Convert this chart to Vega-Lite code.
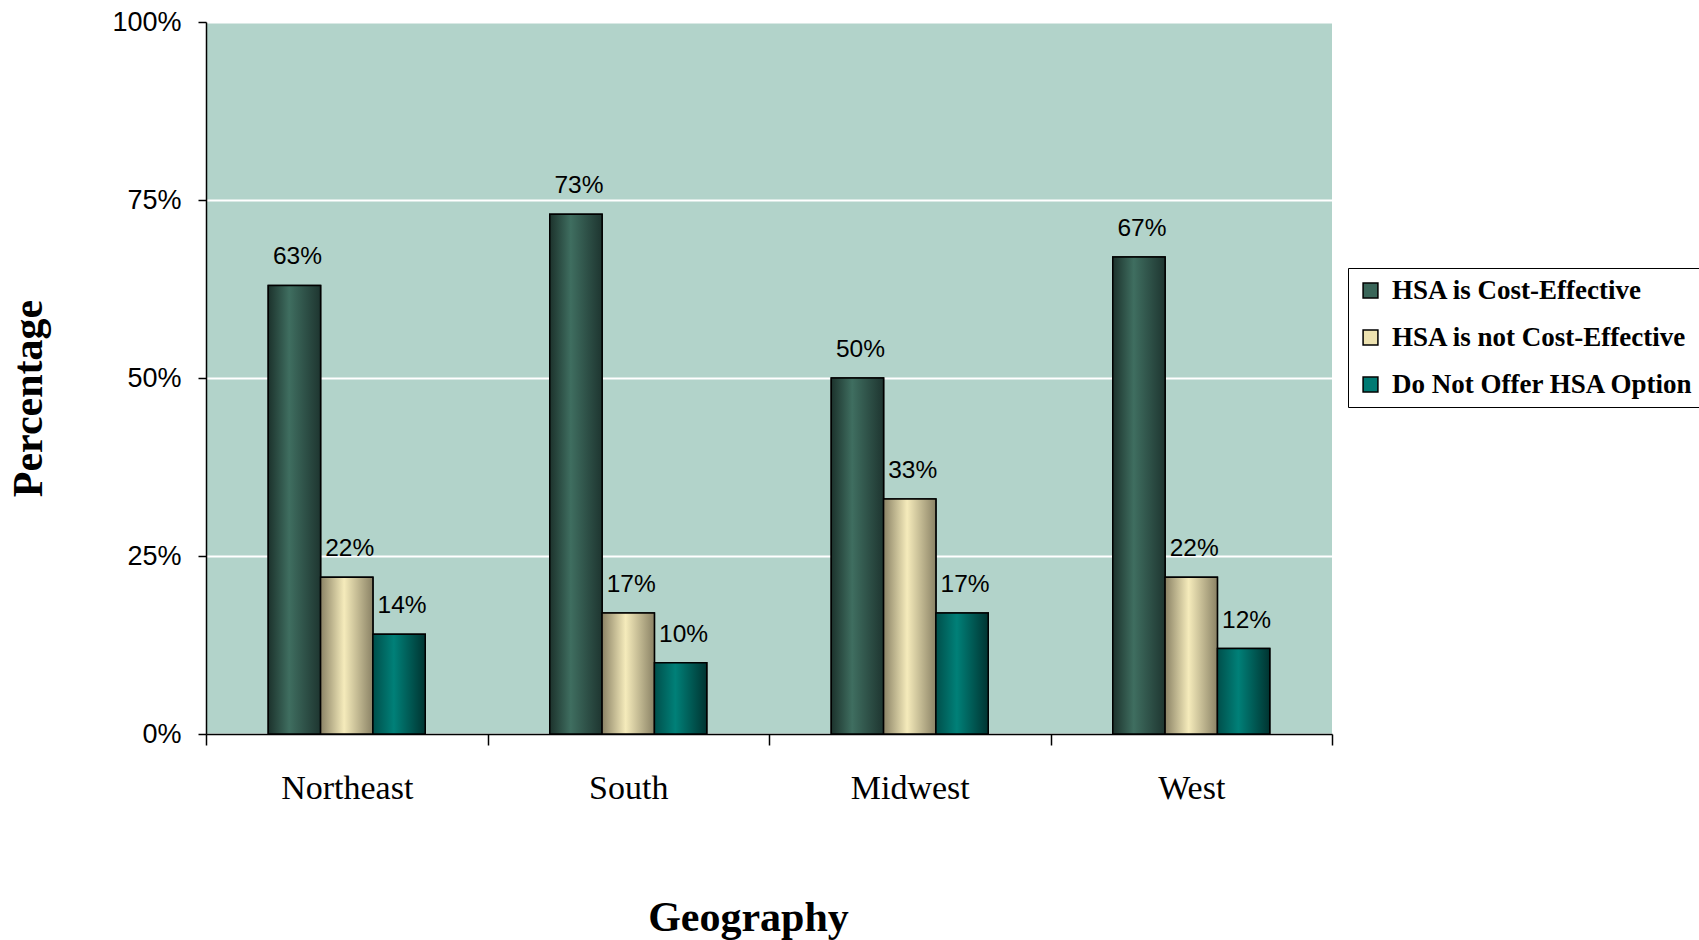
{
  "$schema": "https://vega.github.io/schema/vega-lite/v6.json",
  "width": 1126,
  "height": 712,
  "autosize": "none",
  "padding": {"left": 206, "top": 22, "right": 367, "bottom": 206},
  "background": "white",
  "config": {
    "view": {"stroke": null, "fill": "#B2D3CA"},
    "axis": {"domainColor": "black", "domainWidth": 1.5, "tickColor": "black", "tickWidth": 1.5, "labelColor": "black", "titleColor": "black"}
  },
  "data": {
    "values": [
      {"region": "Northeast", "series": "HSA is Cost-Effective", "value": 0.63},
      {"region": "Northeast", "series": "HSA is not Cost-Effective", "value": 0.22},
      {"region": "Northeast", "series": "Do Not Offer HSA Option", "value": 0.14},
      {"region": "South", "series": "HSA is Cost-Effective", "value": 0.73},
      {"region": "South", "series": "HSA is not Cost-Effective", "value": 0.17},
      {"region": "South", "series": "Do Not Offer HSA Option", "value": 0.10},
      {"region": "Midwest", "series": "HSA is Cost-Effective", "value": 0.50},
      {"region": "Midwest", "series": "HSA is not Cost-Effective", "value": 0.33},
      {"region": "Midwest", "series": "Do Not Offer HSA Option", "value": 0.17},
      {"region": "West", "series": "HSA is Cost-Effective", "value": 0.67},
      {"region": "West", "series": "HSA is not Cost-Effective", "value": 0.22},
      {"region": "West", "series": "Do Not Offer HSA Option", "value": 0.12}
    ]
  },
  "encoding": {
    "x": {
      "field": "region", "type": "nominal",
      "sort": ["Northeast", "South", "Midwest", "West"],
      "scale": {"paddingInner": 0, "paddingOuter": 0},
      "axis": {
        "title": "Geography", "tickBand": "extent", "labelAngle": 0,
        "labelFont": "Liberation Serif", "labelFontSize": 34, "labelPadding": 26, "tickSize": 11,
        "titleFont": "Liberation Serif", "titleFontSize": 42, "titleFontWeight": "bold",
        "titleX": 542, "titleY": 196, "titleBaseline": "alphabetic", "titleAlign": "center",
        "grid": false
      }
    },
    "xOffset": {
      "field": "series", "type": "nominal",
      "scale": {"domain": ["_pad1", "HSA is Cost-Effective", "HSA is not Cost-Effective", "Do Not Offer HSA Option", "_pad2"], "paddingInner": 0, "paddingOuter": 0.19}
    },
    "y": {
      "field": "value", "type": "quantitative",
      "scale": {"domain": [0, 1]},
      "axis": {
        "title": "Percentage", "values": [0, 0.25, 0.5, 0.75, 1], "format": ".0%",
        "labelFont": "Liberation Sans", "labelFontSize": 27, "labelPadding": 17, "tickSize": 8,
        "grid": true, "gridColor": "white", "gridWidth": 2,
        "titleFont": "Liberation Serif", "titleFontSize": 42, "titleFontWeight": "bold",
        "titleX": -165, "titleY": 376, "titleAlign": "center", "titleBaseline": "alphabetic", "titleAngle": -90
      }
    }
  },
  "layer": [
    {
      "mark": {"type": "bar", "stroke": "black", "strokeWidth": 1.5},
      "encoding": {
        "color": {
          "field": "series", "type": "nominal",
          "scale": {"domain": ["HSA is Cost-Effective", "HSA is not Cost-Effective", "Do Not Offer HSA Option"], "range": ["#3A6659", "#EDE2B0", "#007A73"]},
          "legend": {
            "orient": "none", "legendX": 1142, "legendY": 246, "title": null,
            "labelFont": "Liberation Serif", "labelFontSize": 27, "labelFontWeight": "bold", "labelColor": "black",
            "symbolType": "square", "symbolSize": 220, "symbolStrokeColor": "black", "symbolStrokeWidth": 1.5, "symbolOpacity": 1,
            "labelOffset": 8, "rowPadding": 19, "padding": 9, "offset": 0,
            "strokeColor": "black", "fillColor": "white", "labelLimit": 400
          }
        }
      }
    },
    {
      "transform": [{"filter": "datum.series === 'HSA is Cost-Effective'"}],
      "mark": {"type": "bar", "stroke": "black", "strokeWidth": 1.5,
        "fill": {"gradient": "linear", "x1": 0, "x2": 1, "y1": 0, "y2": 0,
          "stops": [{"offset": 0, "color": "#1C322C"}, {"offset": 0.4, "color": "#3F6E60"}, {"offset": 1, "color": "#1E3530"}]}}
    },
    {
      "transform": [{"filter": "datum.series === 'HSA is not Cost-Effective'"}],
      "mark": {"type": "bar", "stroke": "black", "strokeWidth": 1.5,
        "fill": {"gradient": "linear", "x1": 0, "x2": 1, "y1": 0, "y2": 0,
          "stops": [{"offset": 0, "color": "#8A8265"}, {"offset": 0.45, "color": "#F5EBBB"}, {"offset": 1, "color": "#8A8265"}]}}
    },
    {
      "transform": [{"filter": "datum.series === 'Do Not Offer HSA Option'"}],
      "mark": {"type": "bar", "stroke": "black", "strokeWidth": 1.5,
        "fill": {"gradient": "linear", "x1": 0, "x2": 1, "y1": 0, "y2": 0,
          "stops": [{"offset": 0, "color": "#004F4B"}, {"offset": 0.4, "color": "#008078"}, {"offset": 1, "color": "#003431"}]}}
    },
    {
      "mark": {"type": "text", "font": "Liberation Sans", "fontSize": 24.5, "color": "black", "baseline": "alphabetic", "dy": -21, "dx": 3},
      "encoding": {
        "text": {"field": "value", "type": "quantitative", "format": ".0%"}
      }
    }
  ]
}
